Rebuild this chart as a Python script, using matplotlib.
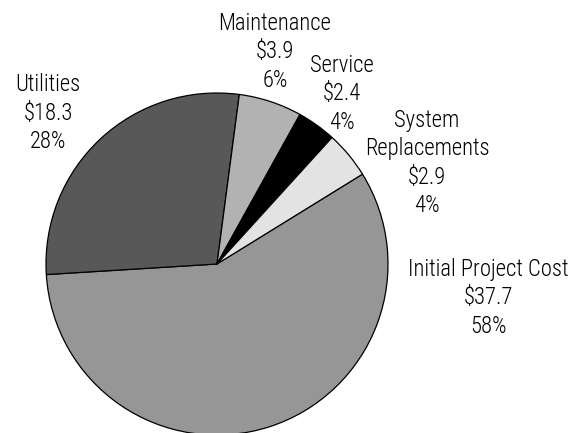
import matplotlib.pyplot as plt
from matplotlib import font_manager

# data
categories = ['Initial Project Cost', 'Utilities', 'Maintenance', 'Service', 'System\nReplacements']
values = [37.7, 18.3, 3.9, 2.4, 2.9]
percents = ['58%', '28%', '6%', '4%', '4%']
colors = ['#969696', '#585858', '#b2b2b2', '#000000', '#e3e3e3']

# centre of each label's first line, pixels from top-left
label_xy = [(488, 267), (48, 82), (275, 21), (342, 63), (427, 118)]
line_gap = 28.5

# pick a light condensed face (original looks like Frutiger Light Condensed)
faces = {(f.name, f.weight) for f in font_manager.fontManager.ttflist}
fam, wt = 'DejaVu Sans', 'normal'
for name in ['Open Sans Condensed', 'Roboto Condensed', 'Fira Sans Condensed', 'Barlow Condensed']:
    light = [w for n, w in faces if n == name and isinstance(w, int) and w <= 400]
    if light:
        fam, wt = name, (300 if 300 in light else max(light))
        break

fig = plt.figure(figsize=(5.74, 4.33), dpi=100)
ax = fig.add_axes([0, 0, 1, 1])

ax.pie(values, colors=colors, startangle=31.7, counterclock=False,
       center=(217, 433 - 264), radius=171,
       wedgeprops=dict(edgecolor='black', linewidth=0.9))

# size the font so "Initial Project Cost" comes out ~161 px wide
probe = fig.text(0, 0, 'Initial Project Cost', fontsize=14, family=fam, fontweight=wt)
w = probe.get_window_extent(fig.canvas.get_renderer()).width
probe.remove()
fs = 14 * 161 / w

for name, v, p, (x, y) in zip(categories, values, percents, label_xy):
    lines = name.split('\n') + [f'${v}', p]
    for i, line in enumerate(lines):
        ax.text(x, 433 - (y + i * line_gap), line, ha='center', va='center_baseline',
                fontsize=fs, family=fam, fontweight=wt)

ax.set_xlim(0, 574)
ax.set_ylim(0, 433)
ax.set_aspect('equal')
ax.axis('off')

fig.savefig('out.png', dpi=100)
